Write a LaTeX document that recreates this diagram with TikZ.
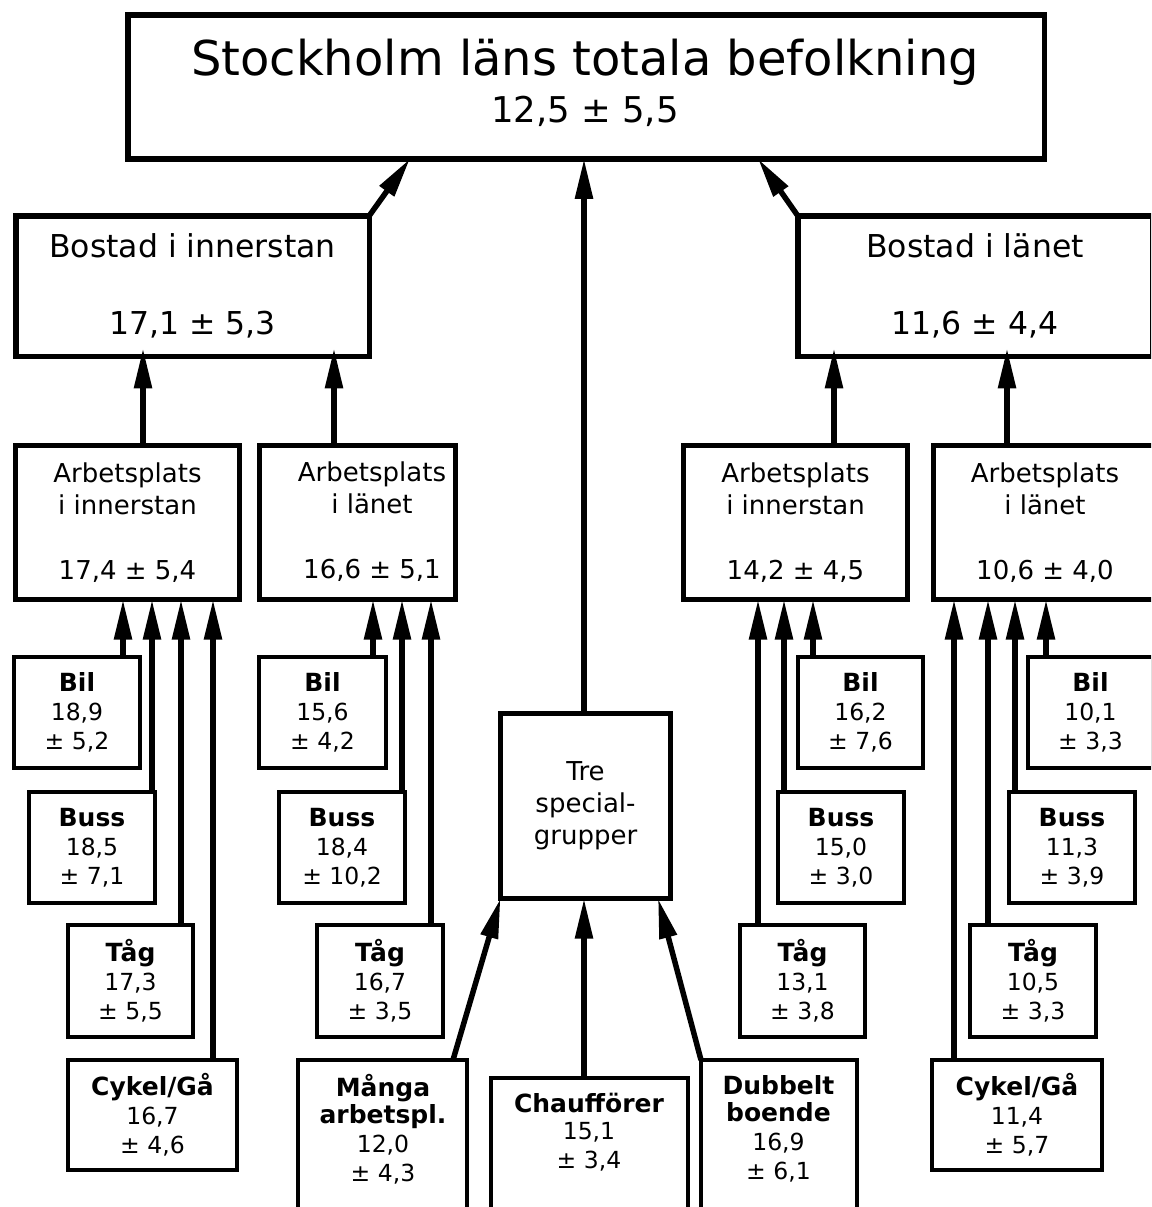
\documentclass[tikz,border=0pt]{standalone}
\usepackage{fontspec}
\setmainfont{DejaVu Sans}
\usetikzlibrary{arrows.meta}
% bold heading line inside a mode box
\newcommand\mhead[1]{{\fontsize{25}{29}\selectfont\bfseries #1}}
\begin{document}
\begin{tikzpicture}[x=1pt,y=-1pt,
  box/.style={draw, rectangle, inner sep=0pt, outer sep=0pt, align=center, fill=white},
  heavy/.style={box, line width=5.5pt},
  bigfont/.style={font=\fontsize{31.5}{37}\selectfont},
  midfont/.style={font=\fontsize{26}{32}\selectfont},
  smallfont/.style={font=\fontsize{23.5}{29}\selectfont},
  medium/.style={box, line width=5pt, midfont},
  light/.style={box, line width=4pt, smallfont},
  modebox/.style={light, minimum width=#1, minimum height=111pt},
  txt/.style={inner sep=0pt, align=center},
  arr/.style={line width=5.5pt, -{Triangle[length=40pt,width=17pt]}},
]
\useasboundingbox (0,0) rectangle (1151,1207);
\fill[white] (0,0) rectangle (1151,1207);
\clip (0,0) rectangle (1151,1207);

% top level
\node[heavy, minimum width=916.5pt, minimum height=143.5pt] (title) at (586,87) {};
\node[txt, anchor=base, font=\fontsize{48}{56}\selectfont] (titlename) at (585,76) {Stockholm läns totala befolkning};
\node[txt, anchor=base, font=\fontsize{35.5}{42}\selectfont] (titleval) at (585,122) {12,5 ± 5,5};

% place of residence
\node[heavy, bigfont, minimum width=353.5pt, minimum height=140.5pt] (bos1) at (192.5,286) {Bostad i innerstan\\[40pt]17,1 ± 5,3};
\node[heavy, bigfont, minimum width=354.5pt, minimum height=140.5pt] (bos2) at (975,286) {Bostad i länet\\[40pt]11,6 ± 4,4};

% place of work
\node[medium, minimum width=224pt, minimum height=154pt] (ap1) at (127.5,522.5) {Arbetsplats\\i innerstan\\[33pt]17,4 ± 5,4};
\node[medium, minimum width=196pt, minimum height=154pt] (ap2) at (357.5,522.5) {};
\node[txt, midfont] (ap2text) at (372,522) {Arbetsplats\\i länet\\[33pt]16,6 ± 5,1};
\node[medium, minimum width=224pt, minimum height=154pt] (ap3) at (795.5,522.5) {Arbetsplats\\i innerstan\\[33pt]14,2 ± 4,5};
\node[medium, minimum width=223pt, minimum height=154pt] (ap4) at (1045,522.5) {Arbetsplats\\i länet\\[33pt]10,6 ± 4,0};

% special groups
\node[medium, minimum width=170pt, minimum height=185pt] (tre) at (585.5,806) {Tre\\special-\\grupper};

% modes of travel, left half
\node[modebox=126pt] (bil1) at (77,712.5) {\mhead{Bil}\\18,9\\± 5,2};
\node[modebox=126pt] (buss1) at (92,847.5) {\mhead{Buss}\\18,5\\± 7,1};
\node[modebox=125pt, minimum height=112pt] (tag1) at (130.5,981) {\mhead{Tåg}\\17,3\\± 5,5};
\node[modebox=169pt, minimum height=110pt] (cyk1) at (152.5,1115) {\mhead{Cykel/Gå}\\16,7\\± 4,6};
\node[modebox=127pt] (bil2) at (322.5,712.5) {\mhead{Bil}\\15,6\\± 4,2};
\node[modebox=126pt] (buss2) at (342,847.5) {\mhead{Buss}\\18,4\\± 10,2};
\node[modebox=126pt, minimum height=112pt] (tag2) at (380,981) {\mhead{Tåg}\\16,7\\± 3,5};

% modes of travel, right half
\node[modebox=125pt] (bil3) at (860.5,712.5) {\mhead{Bil}\\16,2\\± 7,6};
\node[modebox=126pt] (buss3) at (841,847.5) {\mhead{Buss}\\15,0\\± 3,0};
\node[modebox=125pt, minimum height=112pt] (tag3) at (802.5,981) {\mhead{Tåg}\\13,1\\± 3,8};
\node[modebox=125pt] (bil4) at (1090.5,712.5) {\mhead{Bil}\\10,1\\± 3,3};
\node[modebox=126pt] (buss4) at (1072,847.5) {\mhead{Buss}\\11,3\\± 3,9};
\node[modebox=126pt, minimum height=112pt] (tag4) at (1033,981) {\mhead{Tåg}\\10,5\\± 3,3};
\node[modebox=170pt, minimum height=110pt] (cyk4) at (1017,1115) {\mhead{Cykel/Gå}\\11,4\\± 5,7};

% the three special groups
\node[light, minimum width=169pt, minimum height=198pt] (many) at (382.5,1159) {};
\node[txt, smallfont] (manytext) at (383,1129) {\mhead{Många}\\[-1.5pt]\mhead{arbetspl.}\\12,0\\± 4,3};
\node[light, minimum width=197pt, minimum height=180pt] (chauf) at (589.5,1168) {};
\node[txt, smallfont] (chauftext) at (589,1132) {\mhead{Chaufförer}\\[-1.5pt]15,1\\± 3,4};
\node[light, minimum width=156pt, minimum height=198pt] (dub) at (779,1159) {};
\node[txt, smallfont] (dubtext) at (778.5,1129) {\mhead{Dubbelt}\\[-1.5pt]\mhead{boende}\\16,9\\± 6,1};

% modes into places of work
\draw[arr] (bil1.north -| 123,0) -- (ap1.south -| 123,0);
\draw[arr] (buss1.north -| 152,0) -- (ap1.south -| 152,0);
\draw[arr] (tag1.north -| 181,0) -- (ap1.south -| 181,0);
\draw[arr] (cyk1.north -| 213,0) -- (ap1.south -| 213,0);
\draw[arr] (bil2.north -| 373,0) -- (ap2.south -| 373,0);
\draw[arr] (buss2.north -| 402,0) -- (ap2.south -| 402,0);
\draw[arr] (tag2.north -| 431,0) -- (ap2.south -| 431,0);
\draw[arr] (tag3.north -| 758,0) -- (ap3.south -| 758,0);
\draw[arr] (buss3.north -| 784,0) -- (ap3.south -| 784,0);
\draw[arr] (bil3.north -| 813,0) -- (ap3.south -| 813,0);
\draw[arr] (cyk4.north -| 954,0) -- (ap4.south -| 954,0);
\draw[arr] (tag4.north -| 988,0) -- (ap4.south -| 988,0);
\draw[arr] (buss4.north -| 1015,0) -- (ap4.south -| 1015,0);
\draw[arr] (bil4.north -| 1046,0) -- (ap4.south -| 1046,0);

% places of work into places of residence
\draw[arr, shorten >=-8pt] (ap1.north -| 143,0) -- (bos1.south -| 143,0);
\draw[arr, shorten >=-8pt] (ap2.north -| 334,0) -- (bos1.south -| 334,0);
\draw[arr, shorten >=-8pt] (ap3.north -| 834,0) -- (bos2.south -| 834,0);
\draw[arr, shorten >=-8pt] (ap4.north -| 1007,0) -- (bos2.south -| 1007,0);

% into the total
\draw[arr] (bos1.north east) -- (title.south -| 410,0);
\draw[arr] (bos2.north west) -- (title.south -| 758,0);
\draw[arr] (tre.north -| 584,0) -- (title.south -| 584,0);

% special groups into their summary
\draw[arr] (many.north -| 453,0) -- (tre.south west);
\draw[arr] (chauf.north -| 584,0) -- (tre.south -| 584,0);
\draw[arr] (dub.north west) -- (tre.south -| 658,0);
\end{tikzpicture}
\end{document}
